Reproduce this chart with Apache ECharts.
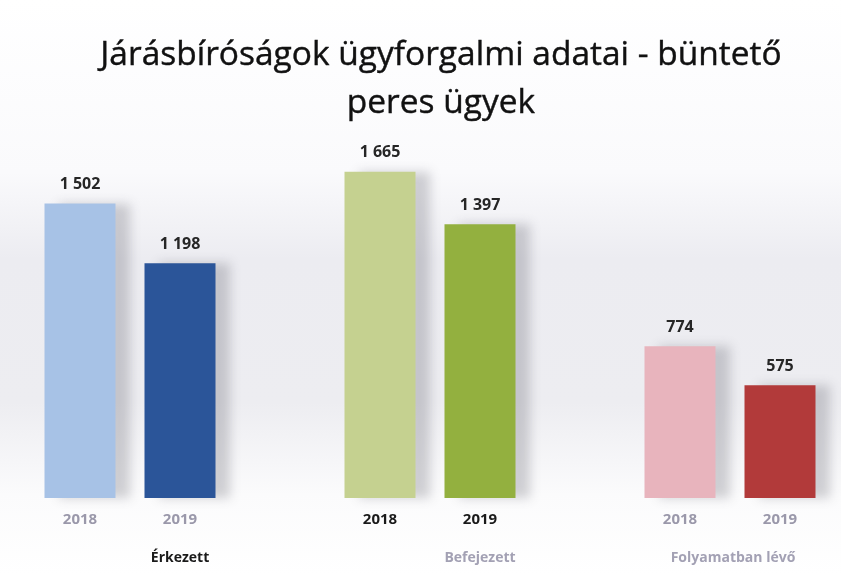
<!DOCTYPE html>
<html>
<head>
<meta charset="utf-8">
<script src="https://cdn.jsdelivr.net/npm/echarts@6/dist/echarts.min.js"></script>
<style>
  html, body { margin: 0; padding: 0; background: #fff; }
  #chart { width: 841px; height: 575px; }
</style>
</head>
<body>
<div id="chart"></div>
<script>
// adatok
const years = ['2018', '2019', '', '2018', '2019', '', '2018', '2019']
const groups = ['', 'Érkezett', '', '', 'Befejezett', '', 'Folyamatban lévő', '']
const values = [1502, 1198, '-', 1665, 1397, '-', 774, 575]
const barColors = ['#a7c2e6', '#2b5599', null, '#c5d190', '#93b03f', null, '#e8b4bd', '#b23a3a']
const yearStrong = [false, false, false, true, true, false, false, false]

const chart = echarts.init(document.getElementById('chart'))

const fmt = v => String(v).replace(/\B(?=(\d{3})+(?!\d))/g, ' ')
const font = 'Open Sans'

chart.setOption({
  backgroundColor: {
    type: 'linear', x: 0, y: 0, x2: 0, y2: 1,
    colorStops: [
      { offset: 0, color: '#ffffff' },
      { offset: 0.3, color: '#fafafc' },
      { offset: 0.45, color: '#ececf1' },
      { offset: 0.7, color: '#ededf1' },
      { offset: 0.86, color: '#fbfbfc' },
      { offset: 1, color: '#ffffff' }
    ]
  },
  title: {
    text: 'Járásbíróságok ügyforgalmi adatai - büntető\nperes ügyek',
    left: 436,
    textAlign: 'center',
    top: 26,
    textStyle: {
      fontFamily: font,
      fontSize: 33.5,
      fontWeight: 'normal',
      color: '#111',
      lineHeight: 48,
      textBorderColor: '#111',
      textBorderWidth: 0.4
    }
  },
  grid: { left: 30, right: 11, top: 106, bottom: 77 },
  xAxis: [{
    type: 'category',
    data: years,
    axisLine: { show: false },
    axisTick: { show: false },
    axisLabel: {
      margin: 14,
      fontFamily: font,
      fontSize: 15,
      fontWeight: 'bold',
      color: (v, i) => yearStrong[i] ? '#1a1a1a' : '#9a98aa'
    }
  }, {
    type: 'category',
    data: groups,
    position: 'bottom',
    offset: 45,
    axisLine: { show: false },
    axisTick: { show: false },
    axisLabel: {
      interval: 0,
      formatter: (v, i) => i === 1 ? '{a|' + v + '}' : i === 6 ? '{c|' + v + '}' : '{b|' + v + '}',
      rich: {
        a: { color: '#1a1a1a', fontFamily: font, fontSize: 14, fontWeight: 'bold' },
        b: { color: '#a3a1b4', fontFamily: font, fontSize: 14, fontWeight: 'bold' },
        c: { color: '#a3a1b4', fontFamily: font, fontSize: 14, fontWeight: 'bold', padding: [0, 0, 0, 106] }
      }
    }
  }],
  yAxis: {
    type: 'value',
    min: 0,
    max: 2000,
    show: false,
    splitLine: { show: false }
  },
  series: [{
    type: 'bar',
    barWidth: 71,
    data: values.map((v, i) => ({
      value: v,
      itemStyle: {
        color: barColors[i] || 'transparent',
        shadowColor: 'rgba(80,80,90,0.25)',
        shadowBlur: 10,
        shadowOffsetX: 14,
        shadowOffsetY: 0
      }
    })),
    label: {
      show: true,
      position: 'top',
      distance: 11,
      fontFamily: font,
      fontSize: 16,
      fontWeight: 'bold',
      color: '#262626',
      formatter: p => fmt(p.value)
    }
  }]
})
</script>
</body>
</html>
